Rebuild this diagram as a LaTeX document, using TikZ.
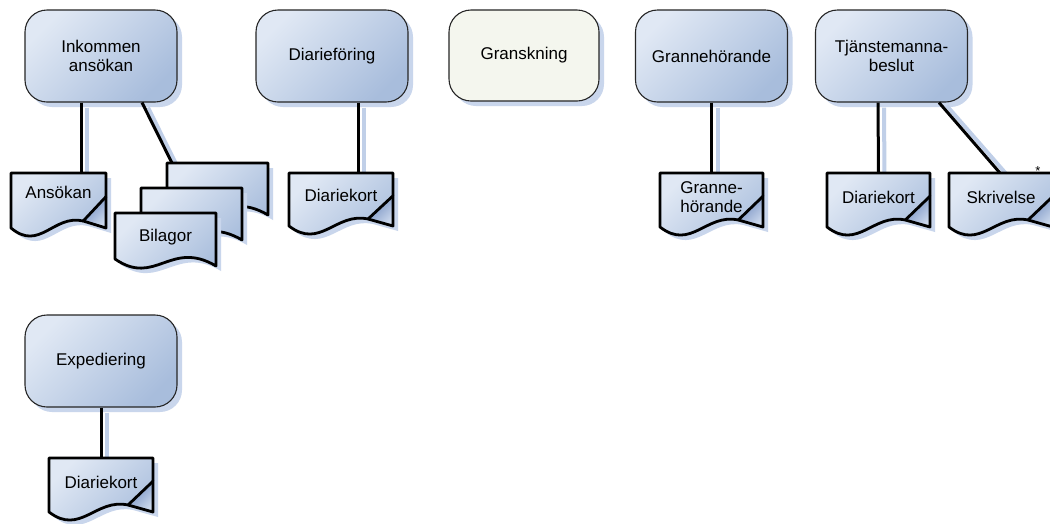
\documentclass[tikz,border=0pt]{standalone}
\usepackage{fontspec}
\setmainfont{Liberation Sans}
\usetikzlibrary{shadows}
\definecolor{lt}{HTML}{E0E8F4}
\definecolor{dk}{HTML}{A8BDDC}
\definecolor{shc}{HTML}{C9D6EC}
\definecolor{lnsh}{HTML}{C0CFE8}
\definecolor{grf}{HTML}{F4F6EE}
\definecolor{curlA}{HTML}{6E8ABD}
\definecolor{curlB}{HTML}{CBD8EC}
\tikzset{
  x=1pt, y=-1pt,
  proc/.style={rounded corners=22pt, minimum width=152pt, minimum height=92pt,
    draw=black!85, line width=1.1pt, align=center, inner sep=0pt,
    font=\fontsize{17}{19.5}\selectfont, top color=lt, bottom color=dk, shading angle=45,
    drop shadow={shadow xshift=5pt, shadow yshift=-5pt, fill=shc, opacity=1}},
  plainproc/.style={proc, top color=grf, bottom color=grf},
  docline/.style={top color=lt, bottom color=dk, shading angle=45},
  docshadow/.style={fill=shc},
  doctext/.style={font=\fontsize{17}{19.5}\selectfont, align=center, inner sep=0pt},
  docanchor/.style={inner sep=0pt, outer sep=0pt, draw=none, anchor=north west},
  outl/.style={draw=black, line width=2.8pt, line join=round},
  conn/.style={draw=black, line width=3pt},
  connsh/.style={draw=lnsh, line width=4pt},
}
\newcommand\docpath[2]{(0,0) -- (#1,0) -- (#1,#2) -- ({0.76*#1},{#2-7}) .. controls ({0.45*#1},{#2-14}) and ({0.3*#1},{#2+24}) .. (0,#2) -- cycle}
\newcommand\mdpath[2]{(0,0) -- (#1,0) -- (#1,{#2+7}) .. controls ({0.55*#1},{#2-20}) and ({0.4*#1},{#2+28}) .. (0,#2) -- cycle}
% name, x, y, w, h, text dy, text
\newcommand\docfold[7]{%
  \begin{scope}[shift={(#2,#3)}]
    \begin{scope}[shift={(5,5)}]\fill[docshadow] \docpath{#4}{#5};\end{scope}
    \path[docline] \docpath{#4}{#5};
    \shade[top color=curlA, bottom color=curlB, shading angle=45] (#4,{0.43*#5}) -- ({0.76*#4},{#5-7}) -- (#4,#5) -- cycle;
    \draw[outl] \docpath{#4}{#5};
    \draw[outl, line cap=round] (#4,{0.43*#5}) -- ({0.76*#4},{#5-7});
  \end{scope}
  \node[docanchor, minimum width=#4pt, minimum height=#5pt] (#1) at (#2,#3) {};
  \node[doctext] (#1t) at ({#2+#4/2},{#3+#6}) {#7};
}
% name, x, y, w, h
\newcommand\multipart[5]{%
  \begin{scope}[shift={(#2,#3)}]
    \begin{scope}[shift={(5,5)}]\fill[docshadow] \mdpath{#4}{#5};\end{scope}
    \path[docline] \mdpath{#4}{#5};
    \draw[outl] \mdpath{#4}{#5};
  \end{scope}
  \node[docanchor, minimum width=#4pt, minimum height=#5pt] (#1) at (#2,#3) {};
}
\begin{document}
\begin{tikzpicture}
\clip (0,0) rectangle (1050,523);
\fill[white] (0,0) rectangle (1050,523);

% process boxes
\node[proc] (ink) at (101,56) {Inkommen\\ansökan};
\node[proc] (dia) at (332,56) {Diarieföring};
\node[plainproc, minimum width=150pt, minimum height=91pt] (gran) at (524,55.5) {Granskning};
\node[proc] (grh) at (711.5,56) {Grannehörande};
\node[proc] (tj) at (891.5,56) {Tjänstemanna-\\beslut};
\node[proc] (exp) at (101,361) {Expediering};

\path (11,173) coordinate (ansNW) (167,163) coordinate (bilNW) (289,173) coordinate (d1NW)
      (660,173) coordinate (ghNW) (827,173) coordinate (d2NW) (949,173) coordinate (skrNW)
      (49,458) coordinate (d3NW);

% connector shadows (offset 6 right, 5 down)
\draw[connsh] ([xshift=-14pt,yshift=-5pt]ink.south) -- ([xshift=76pt,yshift=-5pt]ansNW);
\draw[connsh] ([xshift=47pt,yshift=-5pt]ink.south) -- ([xshift=11pt,yshift=-5pt]bilNW);
\draw[connsh] ([xshift=32pt,yshift=-5pt]dia.south) -- ([xshift=75pt,yshift=-5pt]d1NW);
\draw[connsh] ([xshift=6pt,yshift=-5pt]grh.south) -- ([xshift=57.5pt,yshift=-5pt]ghNW);
\draw[connsh] ([xshift=-7.5pt,yshift=-5pt]tj.south) -- ([xshift=57.5pt,yshift=-5pt]d2NW);
\draw[connsh] ([xshift=55pt,yshift=-3pt]tj.south) -- ([xshift=59pt,yshift=-3pt]skrNW);
\draw[connsh] ([xshift=6pt,yshift=-5pt]exp.south) -- ([xshift=58pt,yshift=-5pt]d3NW);

% documents
\docfold{ans}{11}{173}{95}{55}{19}{Ansökan}
\multipart{bilb}{167}{163}{101}{45}
\multipart{bilm}{141}{188}{101}{45}
\multipart{bilf}{115}{213}{101}{46}
\node[doctext] (bilt) at (165.5,237) {Bilagor};
\docfold{d1}{289}{173}{104}{53}{22}{Diariekort}
\docfold{gh}{660}{173}{103}{54}{24}{Granne-\\[-1pt]hörande}
\docfold{d2}{827}{173}{103}{54}{24}{Diariekort}
\docfold{skr}{949}{173}{104}{54}{24}{Skrivelse}
\docfold{d3}{49}{458}{104}{54}{24}{Diariekort}
\node[font=\fontsize{13}{15}\selectfont, inner sep=0pt] (ast) at (1038,171) {*};

% connectors
\draw[conn] ([xshift=-20pt]ink.south) -- ([xshift=22.5pt]ans.north);
\draw[conn] ([xshift=41pt]ink.south) -- ([xshift=5pt]bilb.north west);
\draw[conn] ([xshift=26pt]dia.south) -- ([xshift=17pt]d1.north);
\draw[conn] (grh.south) -- (gh.north);
\draw[conn] ([xshift=-13.5pt]tj.south) -- (d2.north);
\draw[conn] ([xshift=47.5pt]tj.south) -- ([xshift=-1pt]skr.north);
\draw[conn] (exp.south) -- (d3.north);
\end{tikzpicture}
\end{document}
